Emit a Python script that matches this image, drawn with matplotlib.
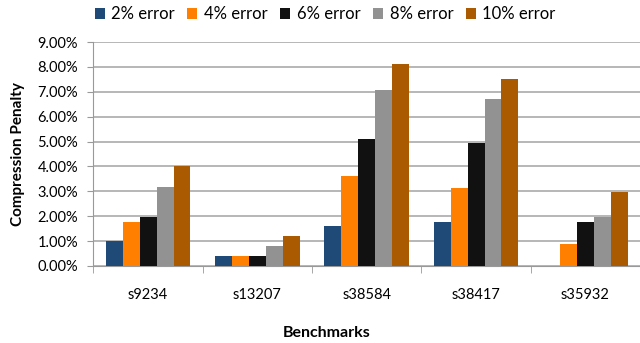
import matplotlib
matplotlib.use('Agg')
import matplotlib.pyplot as plt
import numpy as np
from matplotlib.ticker import FuncFormatter

plt.rcParams['font.family'] = ['Lato', 'DejaVu Sans']

benchmarks = ['s9234', 's13207', 's38584', 's38417', 's35932']
series = ['2% error', '4% error', '6% error', '8% error', '10% error']
err2 = [1.02, 0.40, 1.62, 1.75, 0.0]
err4 = [1.75, 0.40, 3.60, 3.12, 0.87]
err6 = [1.95, 0.40, 5.10, 4.95, 1.75]
err8 = [3.18, 0.80, 7.07, 6.73, 1.95]
err10 = [4.01, 1.22, 8.10, 7.50, 2.98]
colors = ['#1f4a78', '#ff7f00', '#111111', '#929292', '#aa5a00']

fig = plt.figure(figsize=(6.4, 3.43), dpi=100)
ax = fig.add_axes([0.146, 0.2245, 0.854, 0.653])

x = np.arange(len(benchmarks))
w = 0.155
for i, (vals, lab) in enumerate(zip([err2, err4, err6, err8, err10], series)):
    ax.bar(x + (i - 2) * w, vals, width=w, color=colors[i], label=lab, zorder=3)

ax.set_ylim(0, 9)
ax.set_xlim(-0.5, 4.46)
ax.set_yticks(np.arange(0, 10, 1))
ax.yaxis.set_major_formatter(FuncFormatter(lambda v, p: '%.2f%%' % v))
ax.grid(axis='y', color='#aaaaaa', linewidth=1.2, zorder=0)
ax.set_xticks(x)
ax.set_xticklabels(benchmarks)
ax.set_xticks(np.arange(-0.5, 5, 1), minor=True)
ax.tick_params(axis='x', which='major', length=0, pad=16, labelsize=10.5)
ax.tick_params(axis='x', which='minor', length=5, color='#999999')
ax.tick_params(axis='y', length=4, color='#999999', labelsize=10.5, pad=7)
for s in ['top', 'right']:
    ax.spines[s].set_visible(False)
ax.spines['left'].set_color('#999999')
ax.spines['bottom'].set_color('#999999')

ax.set_ylabel('Compression Penalty', fontsize=11, fontweight='bold', labelpad=9)
ax.set_xlabel('Benchmarks', fontsize=11.5, fontweight='bold')
ax.xaxis.set_label_coords(0.426, -0.27)

fig.legend(loc='upper center', bbox_to_anchor=(0.508, 1.025), ncol=5, frameon=False,
           fontsize=12, handlelength=0.6, handleheight=0.6, handletextpad=0.4,
           columnspacing=0.75)

fig.savefig('out.png', dpi=100)
